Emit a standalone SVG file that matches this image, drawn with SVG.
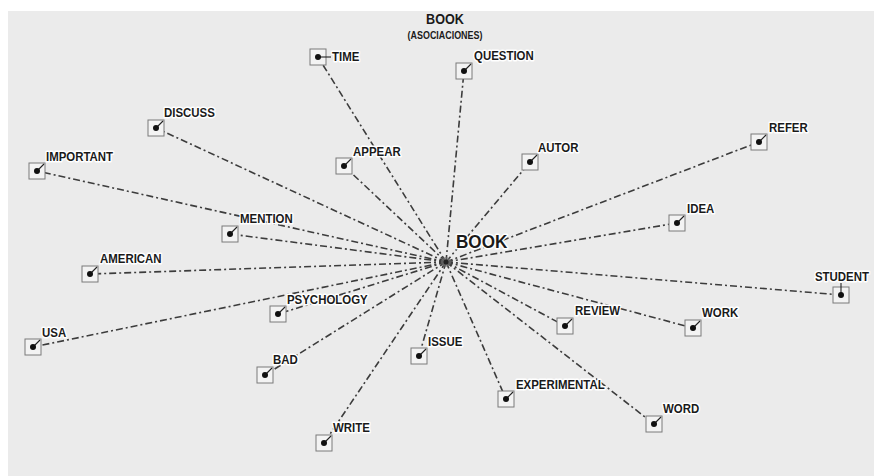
<svg xmlns="http://www.w3.org/2000/svg" width="874" height="476" viewBox="0 0 874 476">
<style>
.bg{fill:#ebebeb}
.e{stroke:#3c3c3c;stroke-width:1.6;fill:none;stroke-dasharray:7 3 2 3}
.box{fill:#f3f3f3;stroke:#7a7a7a;stroke-width:1}
.dot{fill:#111}
.tick{stroke:#222;stroke-width:1.1}
.lbl{font-family:"Liberation Sans",Arial,sans-serif;font-weight:bold;font-size:13px;fill:#1a1a1a;stroke:#fff;stroke-width:3;stroke-linejoin:round;paint-order:stroke}
.title{font-family:"Liberation Sans",Arial,sans-serif;font-weight:bold;fill:#1a1a1a;text-anchor:middle}
</style>
<rect x="0" y="0" width="874" height="476" fill="#ffffff"/>
<rect class="bg" x="8" y="11" width="866" height="465"/>
<text class="title" transform="matrix(0.9 0 0 1 445 24)" font-size="14">BOOK</text>
<text class="title" transform="matrix(0.85 0 0 1 445 39)" font-size="10.5">(ASOCIACIONES)</text>
<g id="connectors">
<line class="e" x1="446" y1="262" x2="318" y2="57"/>
<line class="e" x1="446" y1="262" x2="464" y2="71"/>
<line class="e" x1="446" y1="262" x2="156" y2="128"/>
<line class="e" x1="446" y1="262" x2="37" y2="171"/>
<line class="e" x1="446" y1="262" x2="344" y2="166"/>
<line class="e" x1="446" y1="262" x2="530" y2="162"/>
<line class="e" x1="446" y1="262" x2="759" y2="142"/>
<line class="e" x1="446" y1="262" x2="677" y2="223"/>
<line class="e" x1="446" y1="262" x2="230" y2="234"/>
<line class="e" x1="446" y1="262" x2="90" y2="274"/>
<line class="e" x1="446" y1="262" x2="841" y2="295"/>
<line class="e" x1="446" y1="262" x2="278" y2="314"/>
<line class="e" x1="446" y1="262" x2="565" y2="326"/>
<line class="e" x1="446" y1="262" x2="693" y2="328"/>
<line class="e" x1="446" y1="262" x2="33" y2="347"/>
<line class="e" x1="446" y1="262" x2="419" y2="356"/>
<line class="e" x1="446" y1="262" x2="265" y2="375"/>
<line class="e" x1="446" y1="262" x2="506" y2="399"/>
<line class="e" x1="446" y1="262" x2="654" y2="424"/>
<line class="e" x1="446" y1="262" x2="324" y2="443"/>
</g>
<g id="book">
<circle cx="446" cy="262" r="5" fill="#777" opacity="0.6"/>
<circle cx="446" cy="262" r="2.5" fill="#222"/>
<text class="lbl" transform="matrix(0.9 0 0 1 456 248)" style="font-size:19px">BOOK</text>
</g>
<g id="time"><rect class="box" x="310" y="49" width="16" height="16"/><line class="tick" x1="318" y1="57" x2="331" y2="57"/><circle class="dot" cx="318" cy="57" r="3"/><text class="lbl" transform="matrix(0.88 0 0 1 332 61)">TIME</text></g>
<g id="question"><rect class="box" x="456" y="63" width="16" height="16"/><line class="tick" x1="464" y1="71" x2="471" y2="64"/><circle class="dot" cx="464" cy="71" r="3"/><text class="lbl" transform="matrix(0.88 0 0 1 474 60)">QUESTION</text></g>
<g id="discuss"><rect class="box" x="148" y="120" width="16" height="16"/><line class="tick" x1="156" y1="128" x2="163" y2="121"/><circle class="dot" cx="156" cy="128" r="3"/><text class="lbl" transform="matrix(0.88 0 0 1 164 117)">DISCUSS</text></g>
<g id="important"><rect class="box" x="29" y="163" width="16" height="16"/><line class="tick" x1="37" y1="171" x2="44" y2="164"/><circle class="dot" cx="37" cy="171" r="3"/><text class="lbl" transform="matrix(0.88 0 0 1 46 161)">IMPORTANT</text></g>
<g id="appear"><rect class="box" x="336" y="158" width="16" height="16"/><line class="tick" x1="344" y1="166" x2="351" y2="159"/><circle class="dot" cx="344" cy="166" r="3"/><text class="lbl" transform="matrix(0.88 0 0 1 353 156)">APPEAR</text></g>
<g id="autor"><rect class="box" x="522" y="154" width="16" height="16"/><line class="tick" x1="530" y1="162" x2="537" y2="155"/><circle class="dot" cx="530" cy="162" r="3"/><text class="lbl" transform="matrix(0.88 0 0 1 538 152)">AUTOR</text></g>
<g id="refer"><rect class="box" x="751" y="134" width="16" height="16"/><line class="tick" x1="759" y1="142" x2="766" y2="135"/><circle class="dot" cx="759" cy="142" r="3"/><text class="lbl" transform="matrix(0.88 0 0 1 769 132)">REFER</text></g>
<g id="idea"><rect class="box" x="669" y="215" width="16" height="16"/><line class="tick" x1="677" y1="223" x2="684" y2="216"/><circle class="dot" cx="677" cy="223" r="3"/><text class="lbl" transform="matrix(0.88 0 0 1 687 213)">IDEA</text></g>
<g id="mention"><rect class="box" x="222" y="226" width="16" height="16"/><line class="tick" x1="230" y1="234" x2="237" y2="227"/><circle class="dot" cx="230" cy="234" r="3"/><text class="lbl" transform="matrix(0.88 0 0 1 240 223)">MENTION</text></g>
<g id="american"><rect class="box" x="82" y="266" width="16" height="16"/><line class="tick" x1="90" y1="274" x2="97" y2="267"/><circle class="dot" cx="90" cy="274" r="3"/><text class="lbl" transform="matrix(0.88 0 0 1 100 263)">AMERICAN</text></g>
<g id="student"><rect class="box" x="833" y="287" width="16" height="16"/><line class="tick" x1="841" y1="295" x2="841" y2="283"/><circle class="dot" cx="841" cy="295" r="3"/><text class="lbl" transform="matrix(0.88 0 0 1 815 281)">STUDENT</text></g>
<g id="psychology"><rect class="box" x="270" y="306" width="16" height="16"/><line class="tick" x1="278" y1="314" x2="285" y2="307"/><circle class="dot" cx="278" cy="314" r="3"/><text class="lbl" transform="matrix(0.88 0 0 1 287 304)">PSYCHOLOGY</text></g>
<g id="review"><rect class="box" x="557" y="318" width="16" height="16"/><line class="tick" x1="565" y1="326" x2="572" y2="319"/><circle class="dot" cx="565" cy="326" r="3"/><text class="lbl" transform="matrix(0.88 0 0 1 575 315)">REVIEW</text></g>
<g id="work"><rect class="box" x="685" y="320" width="16" height="16"/><line class="tick" x1="693" y1="328" x2="700" y2="321"/><circle class="dot" cx="693" cy="328" r="3"/><text class="lbl" transform="matrix(0.88 0 0 1 702 317)">WORK</text></g>
<g id="usa"><rect class="box" x="25" y="339" width="16" height="16"/><line class="tick" x1="33" y1="347" x2="40" y2="340"/><circle class="dot" cx="33" cy="347" r="3"/><text class="lbl" transform="matrix(0.88 0 0 1 42 337)">USA</text></g>
<g id="issue"><rect class="box" x="411" y="348" width="16" height="16"/><line class="tick" x1="419" y1="356" x2="426" y2="349"/><circle class="dot" cx="419" cy="356" r="3"/><text class="lbl" transform="matrix(0.88 0 0 1 428 346)">ISSUE</text></g>
<g id="bad"><rect class="box" x="257" y="367" width="16" height="16"/><line class="tick" x1="265" y1="375" x2="272" y2="368"/><circle class="dot" cx="265" cy="375" r="3"/><text class="lbl" transform="matrix(0.88 0 0 1 273 364)">BAD</text></g>
<g id="experimental"><rect class="box" x="498" y="391" width="16" height="16"/><line class="tick" x1="506" y1="399" x2="513" y2="392"/><circle class="dot" cx="506" cy="399" r="3"/><text class="lbl" transform="matrix(0.88 0 0 1 516 389)">EXPERIMENTAL</text></g>
<g id="word"><rect class="box" x="646" y="416" width="16" height="16"/><line class="tick" x1="654" y1="424" x2="661" y2="417"/><circle class="dot" cx="654" cy="424" r="3"/><text class="lbl" transform="matrix(0.88 0 0 1 663 413)">WORD</text></g>
<g id="write"><rect class="box" x="316" y="435" width="16" height="16"/><line class="tick" x1="324" y1="443" x2="331" y2="436"/><circle class="dot" cx="324" cy="443" r="3"/><text class="lbl" transform="matrix(0.88 0 0 1 333 432)">WRITE</text></g>
</svg>
